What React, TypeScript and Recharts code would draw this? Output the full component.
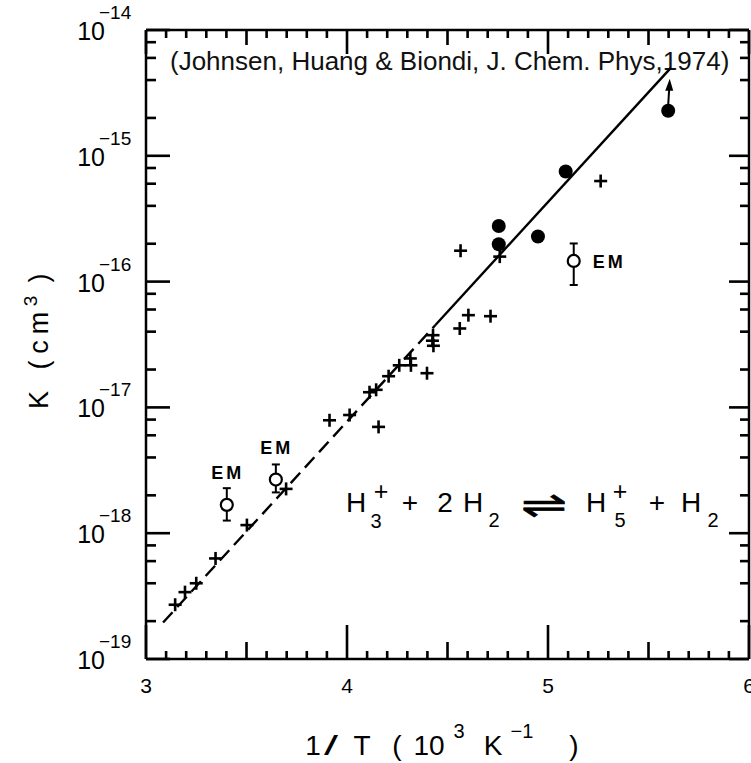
import React from 'react';
import { ComposedChart, XAxis, YAxis, Scatter, Line, ErrorBar, Customized } from 'recharts';

// ---- data (x = 1/T in 10^3 K^-1, y = K) ----
const crossX = [3.145, 3.194, 3.25, 3.346, 3.502, 3.697, 3.913, 4.013, 4.157, 4.112, 4.145, 4.207, 4.26, 4.315, 4.318, 4.398, 4.428, 4.425, 4.43, 4.561, 4.604, 4.714, 4.565, 4.76, 5.262];
const crossK = [2.7e-19, 3.4e-19, 4.0e-19, 6.3e-19, 1.16e-18, 2.25e-18, 7.9e-18, 8.7e-18, 7.0e-18, 1.32e-17, 1.38e-17, 1.77e-17, 2.16e-17, 2.45e-17, 2.16e-17, 1.87e-17, 3.75e-17, 3.39e-17, 3.09e-17, 4.24e-17, 5.41e-17, 5.31e-17, 1.76e-16, 1.58e-16, 6.3e-16];

const filledX = [4.755, 4.755, 4.95, 5.088];
const filledK = [2.77e-16, 1.98e-16, 2.28e-16, 7.5e-16];

const limitX = [5.598];
const limitK = [2.28e-15];

const emX = [3.402, 3.646, 5.128];
const emK = [1.68e-18, 2.67e-18, 1.46e-16];
const emLow = [1.26e-18, 2.11e-18, 9.4e-17];
const emHigh = [2.28e-18, 3.52e-18, 2.01e-16];

const fitDashedX = [3.085, 4.44];
const fitDashedK = [1.95e-19, 4.52e-17];
const fitSolidX = [4.44, 5.611];
const fitSolidK = [4.52e-17, 5.0e-15];

const xTicks = [3, 3.1, 3.2, 3.3, 3.4, 3.5, 3.6, 3.7, 3.8, 3.9, 4, 4.1, 4.2, 4.3, 4.4, 4.5, 4.6, 4.7, 4.8, 4.9, 5, 5.1, 5.2, 5.3, 5.4, 5.5, 5.6, 5.7, 5.8, 5.9, 6];
const xTickLabels = ['3', '4', '5', '6'];
const yTicks = [
  1e-19, 2e-19, 4e-19, 6e-19, 8e-19,
  1e-18, 2e-18, 4e-18, 6e-18, 8e-18,
  1e-17, 2e-17, 4e-17, 6e-17, 8e-17,
  1e-16, 2e-16, 4e-16, 6e-16, 8e-16,
  1e-15, 2e-15, 4e-15, 6e-15, 8e-15,
  1e-14,
];

const X_MIN = 3;
const X_MAX = 6;
const Y_MIN = 1e-19;
const Y_MAX = 1e-14;

const crosses = crossX.map((x, i) => ({ x, y: crossK[i] }));
const filled = filledX.map((x, i) => ({ x, y: filledK[i] }));
const limits = limitX.map((x, i) => ({ x, y: limitK[i] }));
const em = emX.map((x, i) => ({ x, y: emK[i], err: [emK[i] - emLow[i], emHigh[i] - emK[i]] }));
const fitDashed = fitDashedX.map((x, i) => ({ x, y: fitDashedK[i] }));
const fitSolid = fitSolidX.map((x, i) => ({ x, y: fitSolidK[i] }));

const FONT = "'Liberation Sans', Arial, Helvetica, sans-serif";
const INK = '#000';

// plot box given by the margins and axis sizes below
const PLOT = { left: 146, right: 749, top: 30, bottom: 659 };
const xPx = (v: number) => PLOT.left + ((v - X_MIN) / (X_MAX - X_MIN)) * (PLOT.right - PLOT.left);
const yPx = (v: number) =>
  PLOT.bottom -
  ((Math.log10(v) - Math.log10(Y_MIN)) / (Math.log10(Y_MAX) - Math.log10(Y_MIN))) * (PLOT.bottom - PLOT.top);

const isInt = (v: number) => Math.abs(v - Math.round(v)) < 1e-6;
const isHalf = (v: number) => !isInt(v) && Math.abs(v * 2 - Math.round(v * 2)) < 1e-6;
const isDecade = (v: number) => isInt(Math.log10(v));

const LeftTick = (props: any) => {
  const { x, y, payload } = props;
  const v = payload.value;
  if (!isDecade(v)) return <g />;
  const exp = Math.round(Math.log10(v));
  return (
    <text fontFamily={FONT} fill={INK}>
      <tspan x={x - 41} y={y + 10} fontSize={25} textAnchor="end">10</tspan>
      <tspan x={x - 47} y={y - 11} fontSize={19} textAnchor="start">{'\u2212' + String(-exp)}</tspan>
    </text>
  );
};

const CrossShape = (props: any) => {
  const { cx, cy } = props;
  const h = 6.5;
  return (
    <g>
      <line x1={cx - h} x2={cx + h} y1={cy} y2={cy} stroke={INK} strokeWidth={2.6} />
      <line x1={cx} x2={cx} y1={cy - h} y2={cy + h} stroke={INK} strokeWidth={2.6} />
    </g>
  );
};

const FilledShape = (props: any) => {
  const { cx, cy } = props;
  return <circle cx={cx} cy={cy} r={7} fill={INK} />;
};

const LimitShape = (props: any) => {
  const { cx, cy } = props;
  return (
    <g>
      <circle cx={cx} cy={cy} r={7} fill={INK} />
      <line x1={cx} x2={cx + 1} y1={cy - 6} y2={cy - 22} stroke={INK} strokeWidth={2} />
      <polygon points={`${cx + 1.5},${cy - 32} ${cx - 3},${cy - 20} ${cx + 5},${cy - 20}`} fill={INK} />
    </g>
  );
};

const EmShape = (props: any) => {
  const { cx, cy, payload } = props;
  const right = payload && payload.x > 5;
  return (
    <g>
      <circle cx={cx} cy={cy} r={6} fill="#fff" stroke={INK} strokeWidth={2.2} />
      <text
        x={right ? cx + 19 : cx + 1}
        y={right ? cy + 7 : cy - 26}
        textAnchor={right ? 'start' : 'middle'}
        fontSize={18}
        fontWeight="bold"
        letterSpacing={3}
        fontFamily={FONT}
        fill={INK}
      >
        EM
      </text>
    </g>
  );
};

const NoShape = () => <g />;

const TW = 2.6;

const tickMarks = () => {
  const marks: React.ReactNode[] = [];
  xTicks.forEach((v, i) => {
    const px = xPx(v);
    const b = isInt(v) ? 34 : isHalf(v) ? 17 : 8;
    const t = isInt(v) ? 24 : isHalf(v) ? 15 : 8;
    marks.push(<rect key={`b${i}`} x={px - TW / 2} y={PLOT.bottom - b} width={TW} height={b} fill={INK} />);
    marks.push(<rect key={`t${i}`} x={px - TW / 2} y={PLOT.top} width={TW} height={t} fill={INK} />);
  });
  yTicks.forEach((v, i) => {
    const py = yPx(v);
    const l = isDecade(v) ? 24 : 10;
    const r = isDecade(v) ? 20 : 9;
    marks.push(<rect key={`l${i}`} x={PLOT.left} y={py - TW / 2} width={l} height={TW} fill={INK} />);
    marks.push(<rect key={`r${i}`} x={PLOT.right - r} y={py - TW / 2} width={r} height={TW} fill={INK} />);
  });
  return marks;
};

const Texts = () => (
  <g fontFamily={FONT} fill={INK}>
    {xTickLabels.map((s, i) => (
      <text key={`xl${i}`} x={xPx(Number(s))} y={PLOT.bottom + 34} textAnchor="middle" fontSize={21}>
        {s}
      </text>
    ))}
    <text x={170} y={70} fontSize={26} fill="#111">
      (Johnsen, Huang &amp; Biondi, J. Chem. Phys,1974)
    </text>

    {/* reaction */}
    <text x={356} y={512} fontSize={28} textAnchor="middle">H</text>
    <text x={376} y={528} fontSize={20} textAnchor="middle">3</text>
    <text x={381} y={500} fontSize={25} textAnchor="middle">+</text>
    <text x={410} y={512} fontSize={28} textAnchor="middle">+</text>
    <text x={445} y={512} fontSize={28} textAnchor="middle">2</text>
    <text x={473} y={512} fontSize={28} textAnchor="middle">H</text>
    <text x={494} y={527} fontSize={20} textAnchor="middle">2</text>
    <text x={521} y={517} fontSize={36} fontFamily="'DejaVu Sans', sans-serif" textLength={46} lengthAdjust="spacingAndGlyphs" stroke={INK} strokeWidth={0.6}>{'\u21CC'}</text>
    <text x={596} y={512} fontSize={28} textAnchor="middle">H</text>
    <text x={620} y={500} fontSize={25} textAnchor="middle">+</text>
    <text x={620} y={527} fontSize={20} textAnchor="middle">5</text>
    <text x={657} y={512} fontSize={28} textAnchor="middle">+</text>
    <text x={691} y={512} fontSize={28} textAnchor="middle">H</text>
    <text x={713} y={527} fontSize={20} textAnchor="middle">2</text>

    {/* x axis title */}
    <text x={313} y={755} fontSize={28} textAnchor="middle">1</text>
    <text x={331} y={755} fontSize={28} textAnchor="middle" textLength={14} lengthAdjust="spacingAndGlyphs">/</text>
    <text x={362} y={755} fontSize={28} textAnchor="middle">T</text>
    <text x={397} y={755} fontSize={28} textAnchor="middle">(</text>
    <text x={429} y={755} fontSize={28} textAnchor="middle">10</text>
    <text x={459} y={738} fontSize={20} textAnchor="middle">3</text>
    <text x={493} y={755} fontSize={28} textAnchor="middle">K</text>
    <text x={522} y={738} fontSize={20} textAnchor="middle">{'\u22121'}</text>
    <text x={574} y={755} fontSize={28} textAnchor="middle">)</text>

    {/* y axis title */}
    <g transform="rotate(-90)">
      <text x={-400} y={48} fontSize={27} textAnchor="middle">K</text>
      <text x={-365} y={48} fontSize={27} textAnchor="middle">(</text>
      <text x={-347} y={48} fontSize={27} textAnchor="middle">c</text>
      <text x={-323} y={48} fontSize={27} textAnchor="middle">m</text>
      <text x={-301} y={37} fontSize={19} textAnchor="middle">3</text>
      <text x={-278} y={48} fontSize={27} textAnchor="middle">)</text>
    </g>
  </g>
);

const axisLine = { stroke: INK, strokeWidth: 2.5 };

export default function App() {
  return (
    <div style={{ position: 'fixed', left: 0, top: 0, width: 751, height: 763, background: '#fff' }}>
      <ComposedChart width={751} height={763} margin={{ top: 10, right: 0, bottom: 64, left: 0 }}>
        <XAxis
          xAxisId={0}
          dataKey="x"
          type="number"
          domain={[X_MIN, X_MAX]}
          allowDataOverflow
          ticks={xTicks}
          interval={0}
          height={40}
          tick={false}
          tickLine={false}
          axisLine={axisLine}
        />
        <XAxis
          xAxisId="top"
          orientation="top"
          dataKey="x"
          type="number"
          domain={[X_MIN, X_MAX]}
          allowDataOverflow
          ticks={xTicks}
          interval={0}
          height={20}
          tick={false}
          tickLine={false}
          axisLine={axisLine}
        />
        <YAxis
          yAxisId={0}
          dataKey="y"
          type="number"
          scale="log"
          domain={[Y_MIN, Y_MAX]}
          allowDataOverflow
          ticks={yTicks}
          interval={0}
          width={146}
          tickSize={0}
          tickMargin={0}
          tickLine={false}
          axisLine={axisLine}
          tick={<LeftTick />}
        />
        <YAxis
          yAxisId="right"
          orientation="right"
          dataKey="y"
          type="number"
          scale="log"
          domain={[Y_MIN, Y_MAX]}
          allowDataOverflow
          ticks={yTicks}
          interval={0}
          width={2}
          tick={false}
          tickLine={false}
          axisLine={axisLine}
        />

        <Line data={fitDashed} dataKey="y" type="linear" stroke={INK} strokeWidth={2.4} strokeDasharray="14 7" dot={false} activeDot={false} isAnimationActive={false} />
        <Line data={fitSolid} dataKey="y" type="linear" stroke={INK} strokeWidth={2.4} dot={false} activeDot={false} isAnimationActive={false} />

        <Scatter data={crosses} dataKey="y" shape={<CrossShape />} isAnimationActive={false} />
        <Scatter data={filled} dataKey="y" shape={<FilledShape />} isAnimationActive={false} />
        <Scatter data={limits} dataKey="y" shape={<LimitShape />} isAnimationActive={false} />
        <Scatter data={em} dataKey="y" shape={<NoShape />} isAnimationActive={false}>
          <ErrorBar dataKey="err" direction="y" width={4} stroke={INK} strokeWidth={2} />
        </Scatter>
        <Scatter data={em} dataKey="y" shape={<EmShape />} isAnimationActive={false} />

        <Customized component={<Texts />} />
      </ComposedChart>
      <svg
        width={751}
        height={763}
        style={{ position: 'absolute', left: 0, top: 0, pointerEvents: 'none' }}
      >
        {tickMarks()}
      </svg>
    </div>
  );
}
